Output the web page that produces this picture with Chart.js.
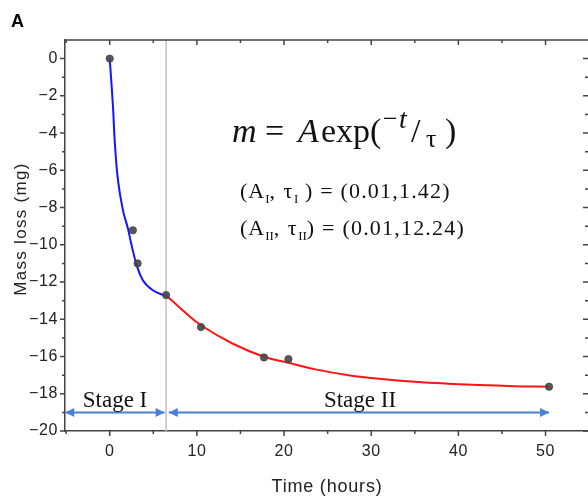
<!DOCTYPE html>
<html lang="en">
<head>
<meta charset="utf-8"/>
<title>Mass loss vs time</title>
<script src="https://cdn.jsdelivr.net/npm/chart.js@4.4.3/dist/chart.umd.min.js"></script>
<style>
  body { margin: 0; background: #fff; }
  canvas { display: block; }
</style>
</head>
<body>
<canvas id="massChart" width="588" height="497"></canvas>
<script>
  // measured points
  const timeHours = [0, 2.66, 3.2, 6.47, 10.47, 17.7, 20.5, 50.4];
  const massLoss = [0, -9.22, -11.0, -12.7, -14.42, -16.05, -16.14, -17.62];

  // fit curves
  const fit1X = [0, 0.38, 0.57, 0.95, 1.52, 2.09, 2.47, 3.04, 3.8, 4.95, 6.47];
  const fit1Y = [0, -2.61, -4.4, -6.54, -8.15, -9.13, -9.94, -11.0, -11.9, -12.44, -12.76];
  const fit2X = [6.47, 8.37, 10.47, 14.08, 17.69, 20.47, 23.6, 27.4, 31.2, 35.0, 38.8, 42.6, 46.4, 50.4];
  const fit2Y = [-12.71, -13.51, -14.32, -15.3, -16.01, -16.33, -16.69, -17.0, -17.21, -17.36, -17.46, -17.53, -17.59, -17.62];

  // stage boundary and arrows
  const stageBoundary = 6.47;
  const stage1X = [-5.1, 6.3];
  const stage2X = [6.77, 50.4];
  const stageY = -19;

  const xTicks = [0, 10, 20, 30, 40, 50];
  const xMinor = [-5, 5, 15, 25, 35, 45];
  const yTicks = [0, -2, -4, -6, -8, -10, -12, -14, -16, -18, -20];
  const yMinor = [-1, -3, -5, -7, -9, -11, -13, -15, -17, -19];

  const pairs = (xs, ys) => xs.map((x, i) => ({ x: x, y: ys[i] }));

  const axisColor = '#444';
  const arrowColor = '#4a7fd6';

  // ticks on all four sides, arrowheads and text
  const decor = {
    id: 'decor',
    beforeDraw(chart) {
      chart.ctx.letterSpacing = '0.6px';
    },
    afterDatasetsDraw(chart) {
      const ctx = chart.ctx;
      const a = chart.chartArea;
      const xs = chart.scales.x, ys = chart.scales.y;
      ctx.save();
      ctx.letterSpacing = '0px';
      ctx.strokeStyle = axisColor;
      ctx.lineWidth = 1.5;
      ctx.beginPath();
      ctx.moveTo(a.left, a.top); ctx.lineTo(a.right, a.top);
      const tick = (vals, len) => {
        vals.forEach(v => {
          const px = xs.getPixelForValue(v);
          ctx.moveTo(px, a.bottom); ctx.lineTo(px, a.bottom + len);
          ctx.moveTo(px, a.top); ctx.lineTo(px, a.top + len);
        });
      };
      const tickY = (vals, len) => {
        vals.forEach(v => {
          const py = ys.getPixelForValue(v);
          ctx.moveTo(a.left, py); ctx.lineTo(a.left - len, py);
          ctx.moveTo(a.right, py); ctx.lineTo(a.right - len, py);
        });
      };
      tick(xTicks, 5); tick(xMinor, 3);
      tickY(yTicks, 5); tickY(yMinor, 3);
      ctx.stroke();

      // arrowheads
      const head = (xv, dir) => {
        const px = xs.getPixelForValue(xv), py = ys.getPixelForValue(stageY);
        ctx.beginPath();
        ctx.moveTo(px, py);
        ctx.lineTo(px - dir * 9, py - 4.5);
        ctx.lineTo(px - dir * 9, py + 4.5);
        ctx.closePath();
        ctx.fill();
      };
      ctx.fillStyle = arrowColor;
      head(stage1X[0], -1); head(stage1X[1], 1);
      head(stage2X[0], -1); head(stage2X[1], 1);

      // stage labels
      ctx.fillStyle = '#111';
      ctx.font = '23px "Liberation Serif"';
      ctx.textAlign = 'center';
      ctx.textBaseline = 'alphabetic';
      ctx.fillText('Stage I', 115, 407);
      ctx.fillText('Stage II', 360, 407);

      // formula pieces placed left to right
      ctx.textAlign = 'left';
      const put = (parts, y) => {
        parts.forEach(p => { ctx.font = p.f; ctx.fillText(p.t, p.x, y + (p.dy || 0)); });
      };
      const big = '34px "Liberation Serif"', bigI = 'italic 34px "Liberation Serif"';
      put([
        { t: 'm', f: bigI, x: 232 }, { t: '=', f: big, x: 265 }, { t: 'A', f: bigI, x: 298 },
        { t: 'exp(', f: big, x: 321 }, { t: '\u2212', f: '26px "Liberation Serif"', x: 383, dy: -15 },
        { t: 't', f: 'italic 28px "Liberation Serif"', x: 399, dy: -14 },
        { t: '/', f: big, x: 411 }, { t: '\u03c4', f: '26px "Liberation Serif"', x: 426, dy: 5 },
        { t: ')', f: big, x: 445 }
      ], 142);

      // parameter lines with subscripts
      const runs = (x, y, parts) => {
        parts.forEach(p => {
          ctx.font = p.f;
          ctx.letterSpacing = p.ls || '0px';
          ctx.fillText(p.t, x, y + (p.dy || 0));
          x += ctx.measureText(p.t).width;
        });
        ctx.letterSpacing = '0px';
      };
      const p = '22px "Liberation Serif"', sub = '13px "Liberation Serif"';
      runs(240, 198, [
        { t: '(A', f: p, ls: '1px' }, { t: 'I', f: sub, dy: 5 }, { t: ', \u03c4', f: p, ls: '1.5px' },
        { t: 'I', f: sub, dy: 5 }, { t: ' ) = (0.01,1.42)', f: p, ls: '1.2px' }
      ]);
      runs(240, 235, [
        { t: '(A', f: p, ls: '1px' }, { t: 'II', f: sub, dy: 5 }, { t: ', \u03c4', f: p, ls: '1.5px' },
        { t: 'II', f: sub, dy: 5 }, { t: ') = (0.01,12.24)', f: p, ls: '1.2px' }
      ]);

      // panel letter and axis titles
      ctx.fillStyle = '#000';
      ctx.font = 'bold 18px "Liberation Sans"';
      ctx.fillText('A', 11, 27);
      ctx.fillStyle = '#222';
      ctx.font = '18px "Liberation Sans"';
      ctx.textAlign = 'center';
      ctx.letterSpacing = '0.8px';
      ctx.fillText('Time (hours)', 327, 492);
      ctx.translate(26, 229);
      ctx.rotate(-Math.PI / 2);
      ctx.font = '17px "Liberation Sans"';
      ctx.letterSpacing = '1.3px';
      ctx.fillText('Mass loss (mg)', 0, 0);
      ctx.restore();
    }
  };

  const massChart = new Chart(document.getElementById('massChart'), {
    type: 'scatter',
    data: {
      datasets: [
        {
          label: 'Measured',
          data: pairs(timeHours, massLoss),
          backgroundColor: 'rgba(70,70,70,0.9)',
          borderColor: 'rgba(70,70,70,0.9)',
          pointRadius: 3.6,
        },
        {
          label: 'Stage I fit',
          data: pairs(fit1X, fit1Y),
          showLine: true,
          borderColor: '#1414ff',
          borderWidth: 2,
          pointRadius: 0,
          tension: 0.4,
        },
        {
          label: 'Stage II fit',
          data: pairs(fit2X, fit2Y),
          showLine: true,
          borderColor: '#ff1414',
          borderWidth: 2,
          pointRadius: 0,
          tension: 0.4,
        },
        {
          label: 'Stage I',
          data: pairs(stage1X, [stageY, stageY]),
          showLine: true,
          borderColor: arrowColor,
          borderWidth: 2,
          pointRadius: 0,
        },
        {
          label: 'Stage II',
          data: pairs(stage2X, [stageY, stageY]),
          showLine: true,
          borderColor: arrowColor,
          borderWidth: 2,
          pointRadius: 0,
        },
        {
          label: 'Boundary',
          data: [{ x: stageBoundary, y: 1 }, { x: stageBoundary, y: -20 }],
          showLine: true,
          borderColor: '#c8c8c8',
          borderWidth: 1,
          pointRadius: 0,
        },
      ],
    },
    options: {
      responsive: false,
      animation: false,
      devicePixelRatio: 1,
      layout: { autoPadding: false, padding: { top: 40, left: 0, right: -3, bottom: 0 } },
      plugins: { legend: { display: false }, tooltip: { enabled: false } },
      scales: {
        x: {
          type: 'linear',
          min: -5.13,
          max: 54.87,
          afterFit: (s) => { s.height = 66; s.paddingLeft = 0; s.paddingRight = 0; },
          afterBuildTicks: (s) => { s.ticks = xTicks.map(v => ({ value: v })); },
          grid: { display: false, drawTicks: false },
          border: { display: true, color: axisColor, width: 1.5 },
          ticks: { color: '#222', font: { family: 'Liberation Sans', size: 16 }, padding: 11, maxRotation: 0 },
        },
        y: {
          type: 'linear',
          min: -20,
          max: 1,
          afterFit: (s) => { s.width = 65; s.paddingTop = 0; s.paddingBottom = 0; },
          afterBuildTicks: (s) => { s.ticks = yTicks.map(v => ({ value: v })); },
          grid: { display: false, drawTicks: false },
          border: { display: true, color: axisColor, width: 1.5 },
          ticks: {
            color: '#222', font: { family: 'Liberation Sans', size: 16 }, padding: 7,
            callback: (v) => String(v).replace('-', '\u2212'),
          },
        },
      },
    },
    plugins: [decor],
  });
</script>
</body>
</html>
